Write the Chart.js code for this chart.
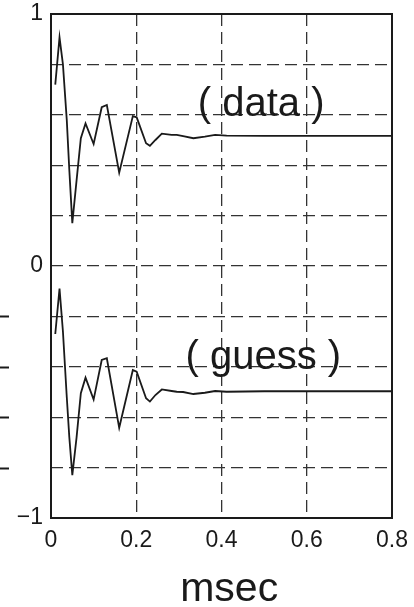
<!DOCTYPE html>
<html>
<head>
<meta charset="utf-8">
<script src="https://cdn.jsdelivr.net/npm/chart.js@4/dist/chart.umd.min.js"></script>
<style>
  html, body { margin: 0; padding: 0; background: #fff; }
  #wrap { width: 414px; height: 607px; position: relative; }
</style>
</head>
<body>
<div id="wrap"><canvas id="c"></canvas></div>
<script>
// time axis (msec)
const timeMs = [0.010, 0.020, 0.028, 0.037, 0.043, 0.050, 0.060, 0.070, 0.081, 0.100,
                0.119, 0.131, 0.160, 0.192, 0.201, 0.223, 0.232, 0.245, 0.260, 0.283,
                0.295, 0.310, 0.334, 0.361, 0.385, 0.412, 0.500, 0.600, 0.700, 0.800];

// measured response, offset upward
const dataTrace = [0.72, 0.907, 0.80, 0.58, 0.38, 0.17, 0.34, 0.507, 0.566, 0.484,
                   0.63, 0.639, 0.37, 0.595, 0.59, 0.487, 0.477, 0.50, 0.525, 0.52,
                   0.52, 0.515, 0.507, 0.513, 0.52, 0.517, 0.516, 0.516, 0.516, 0.516];

// model estimate, offset downward
const guessTrace = [-0.27, -0.09, -0.26, -0.52, -0.68, -0.83, -0.68, -0.505, -0.443, -0.53,
                    -0.373, -0.366, -0.642, -0.413, -0.419, -0.525, -0.538, -0.512, -0.49, -0.496,
                    -0.499, -0.50, -0.508, -0.503, -0.496, -0.499, -0.497, -0.497, -0.497, -0.497];

const xTickValues = [0, 0.2, 0.4, 0.6, 0.8];
const xTickLabels = ['0', '0.2', '0.4', '0.6', '0.8'];
const yTickLabels = { '-1': '\u22121', '0': '0', '1': '1' };
const traceLabels = ['( data )', '( guess )'];
const xAxisTitle = 'msec';
const strayTicks = [-0.2, -0.4, -0.6, -0.8];

const INK = '#1a1a1a';
const FONT = '"Liberation Sans", Arial, Helvetica, sans-serif';

const toPoints = ys => ys.map((v, i) => ({ x: timeMs[i], y: v }));

const decor = {
  id: 'decor',
  afterDatasetsDraw(chart, args, opts) {
    const { ctx, chartArea: a, scales: { x, y } } = chart;
    ctx.save();
    // box around the plot
    ctx.strokeStyle = INK;
    ctx.lineWidth = 2;
    ctx.strokeRect(a.left, a.top, a.right - a.left, a.bottom - a.top);
    // short tick marks at the far left edge
    ctx.lineWidth = 2;
    strayTicks.forEach(v => {
      const py = Math.round(y.getPixelForValue(v)) + 0.5;
      ctx.beginPath();
      ctx.moveTo(0, py);
      ctx.lineTo(9, py);
      ctx.stroke();
    });
    // trace captions
    ctx.fillStyle = INK;
    ctx.font = opts.captionSize + 'px ' + FONT;
    ctx.textAlign = 'center';
    ctx.textBaseline = 'middle';
    opts.anchors.forEach((p, i) => {
      ctx.fillText(traceLabels[i], x.getPixelForValue(p[0]), y.getPixelForValue(p[1]));
    });
    // axis title under the tick labels
    ctx.font = opts.titleSize + 'px ' + FONT;
    ctx.textBaseline = 'alphabetic';
    ctx.fillText(xAxisTitle, x.getPixelForValue(opts.titleAt), a.bottom + opts.titleDrop);
    ctx.restore();
  }
};

const gridColor = (ctx, ends) => {
  const v = ctx.tick ? ctx.tick.value : null;
  if (v === null) return 'rgba(0,0,0,0)';
  return ends.some(e => Math.abs(v - e) < 1e-6) ? 'rgba(0,0,0,0)' : '#333';
};

new Chart(document.getElementById('c'), {
  type: 'line',
  data: {
    datasets: [
      { data: toPoints(dataTrace), borderColor: INK, borderWidth: 1.8, pointRadius: 0, tension: 0, fill: false },
      { data: toPoints(guessTrace), borderColor: INK, borderWidth: 1.8, pointRadius: 0, tension: 0, fill: false }
    ]
  },
  options: {
    responsive: true,
    maintainAspectRatio: false,
    animation: false,
    events: [],
    layout: { padding: { top: 14, right: 22, left: 0, bottom: 0 } },
    plugins: {
      legend: { display: false },
      tooltip: { enabled: false },
      decor: {
        captionSize: 40,
        anchors: [[0.493, 0.639], [0.498, -0.365]],
        titleSize: 41,
        titleAt: 0.418,
        titleDrop: 83
      }
    },
    scales: {
      x: {
        type: 'linear',
        min: 0, max: 0.8,
        afterFit: s => { s.height = 89; },
        afterBuildTicks: s => { s.ticks = xTickValues.map(v => ({ value: v })); },
        ticks: {
          padding: 0,
          maxRotation: 0,
          color: INK,
          font: { family: FONT, size: 23, lineHeight: 1.2 },
          callback: (v, i) => xTickLabels[i]
        },
        grid: {
          drawTicks: true, tickLength: 9, tickColor: 'rgba(0,0,0,0)',
          lineWidth: 1.3, color: c => gridColor(c, [0, 0.8])
        },
        border: { display: false, dash: [12, 6] }
      },
      y: {
        type: 'linear',
        min: -1, max: 1,
        afterFit: s => { s.width = 51; },
        ticks: {
          stepSize: 0.2,
          padding: 0,
          color: INK,
          autoSkip: false,
          font: { family: FONT, size: 23, lineHeight: 1.2 },
          callback: v => {
            const k = String(Math.round(v * 10) / 10);
            return yTickLabels[k] !== undefined ? yTickLabels[k] : '';
          }
        },
        grid: {
          drawTicks: true, tickLength: 8, tickColor: 'rgba(0,0,0,0)',
          lineWidth: 1.3, color: c => gridColor(c, [-1, 1])
        },
        border: { display: false, dash: [12, 6] }
      }
    }
  },
  plugins: [decor]
});
</script>
</body>
</html>
